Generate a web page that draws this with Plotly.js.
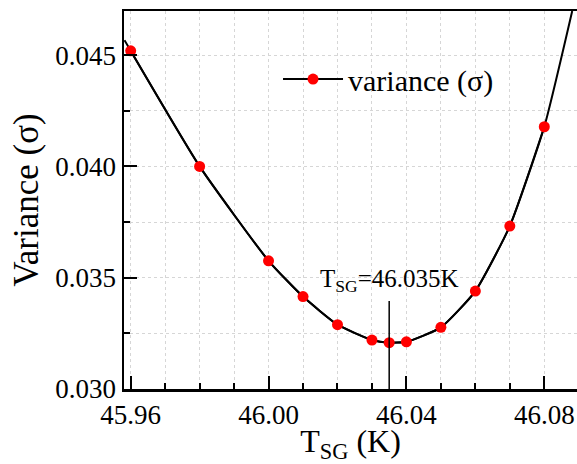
<!DOCTYPE html>
<html>
<head>
<meta charset="utf-8">
<script src="https://cdn.plot.ly/plotly-3.0.1.min.js"></script>
<style>html,body{margin:0;padding:0;background:#fff;}#chart{width:577px;height:464px;}</style>
</head>
<body>
<div id="chart"></div>
<script>
// Measured data points (T_SG in K, variance sigma)
const tempK = [45.96, 45.98, 46.00, 46.01, 46.02, 46.03, 46.035, 46.04, 46.05, 46.06, 46.07, 46.08];
const variance = [0.04519, 0.04000, 0.03576, 0.03415, 0.03289, 0.03220, 0.03208, 0.03212, 0.03277, 0.03440, 0.03732, 0.04178];
// Fitted curve as drawn (runs on to the frame edges)
const curveT = [45.9582, 45.96, 45.98, 46.00, 46.01, 46.02, 46.03, 46.035, 46.04, 46.05, 46.06, 46.07, 46.08, 46.0881];
const curveV = [0.04567, 0.04519, 0.04000, 0.03576, 0.03415, 0.03289, 0.03220, 0.03208, 0.03212, 0.03277, 0.03440, 0.03732, 0.04178, 0.04698];
// Marker line for T_SG
const tsgLineT = [46.035, 46.035];
const tsgLineV = [0.0300, 0.03395];
const tsgLabel = 'T<sub>SG</sub>=46.035K';
const seriesName = 'variance (σ)';

const FONT = 'Liberation Serif';

const traces = [
  {x: curveT, y: curveV, mode: 'lines', type: 'scatter', showlegend: false,
   line: {color: '#000', width: 2, shape: 'spline', smoothing: 0.5}, hoverinfo: 'skip'},
  {x: tempK, y: variance, mode: 'lines+markers', type: 'scatter', name: seriesName,
   line: {color: '#000', width: 2, shape: 'spline', smoothing: 0.5},
   marker: {color: '#ff0000', size: 11}},
  {x: tsgLineT, y: tsgLineV, mode: 'lines', type: 'scatter', showlegend: false,
   line: {color: '#000', width: 1.5}}
];

const gridColor = '#d6d6d6';
const layout = {
  width: 577, height: 464,
  margin: {l: 124, r: 0, t: 11, b: 75, pad: 0},
  paper_bgcolor: '#fff', plot_bgcolor: '#fff',
  font: {family: FONT, color: '#000', size: 27},
  showlegend: true,
  legend: {x: 0.34, y: 0.82, xanchor: 'left', yanchor: 'middle', bgcolor: 'rgba(0,0,0,0)',
           font: {family: FONT, size: 30, color: '#000'}, itemwidth: 60},
  xaxis: {
    range: [45.95806, 46.08949], tick0: 45.96, dtick: 0.04, tickformat: '.2f',
    ticks: 'inside', ticklen: 13, tickwidth: 2, tickcolor: '#000',
    showline: true, linewidth: 2.5, linecolor: '#000', mirror: true,
    showgrid: true, gridcolor: gridColor, griddash: 'dot', gridwidth: 1,
    zeroline: false,
    minor: {dtick: 0.01, tick0: 45.96, ticks: 'inside', ticklen: 6, tickwidth: 2, tickcolor: '#000',
            showgrid: true, gridcolor: gridColor, griddash: 'dot', gridwidth: 1},
    tickfont: {family: FONT, size: 27, color: '#000'},
    title: {text: 'T<sub>SG</sub> (K)', font: {family: FONT, size: 32, color: '#000'}, standoff: 6}
  },
  yaxis: {
    range: [0.0300, 0.04698], tick0: 0.030, dtick: 0.005, tickformat: '.3f',
    ticks: 'inside', ticklen: 13, tickwidth: 2, tickcolor: '#000',
    showline: true, linewidth: 2.5, linecolor: '#000', mirror: false,
    showgrid: true, gridcolor: gridColor, griddash: 'dot', gridwidth: 1,
    zeroline: false,
    minor: {dtick: 0.0025, tick0: 0.030, ticks: 'inside', ticklen: 6, tickwidth: 2, tickcolor: '#000',
            showgrid: true, gridcolor: gridColor, griddash: 'dot', gridwidth: 1},
    tickfont: {family: FONT, size: 27, color: '#000'},
    title: {text: 'Variance (σ)', font: {family: FONT, size: 35, color: '#000'}, standoff: 6}
  },
  annotations: [{
    x: tsgLineT[1], y: tsgLineV[1], xref: 'x', yref: 'y', text: tsgLabel, showarrow: false,
    xanchor: 'center', yanchor: 'bottom', yshift: 3,
    font: {family: FONT, size: 25, color: '#000'}
  }]
};

Plotly.newPlot('chart', traces, layout, {staticPlot: true, displayModeBar: false});
</script>
</body>
</html>
